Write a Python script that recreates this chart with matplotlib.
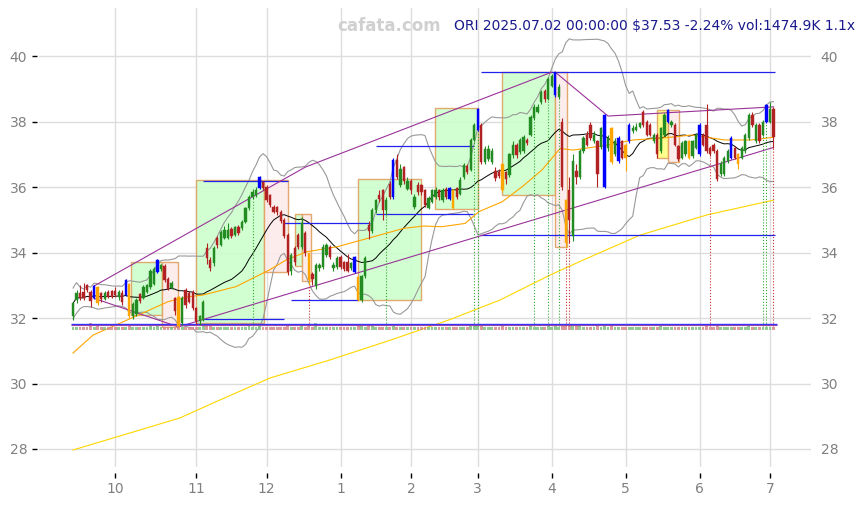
import matplotlib
matplotlib.use('Agg')
import matplotlib.pyplot as plt
from matplotlib.patches import Rectangle
import numpy as np
import pandas as pd

# trading days shown
holidays = ['2024-11-28', '2024-12-25', '2025-01-01', '2025-01-09', '2025-01-20',
            '2025-02-17', '2025-04-18', '2025-05-26', '2025-06-19']
dates = pd.bdate_range('2024-09-13', '2025-07-02')
dates = dates[~dates.isin(pd.to_datetime(holidays))]

opens = [32.05, 32.55, 32.78, 32.80, 33.00, 32.80, 32.60, 32.95, 32.75, 32.58,
         32.80, 32.82, 32.82, 32.65, 32.78, 32.70, 33.05, 32.05, 32.12, 32.72,
         32.62, 32.80, 32.95, 33.05, 33.40, 33.50, 33.60, 33.20, 32.92, 32.62,
         32.64, 31.85, 32.85, 32.76, 32.80, 32.30, 31.92, 31.94, 34.14, 33.77,
         33.68, 34.44, 34.23, 34.44, 34.45, 34.72, 34.55, 34.78, 34.75, 34.93,
         35.36, 35.70, 35.75, 35.97, 36.15, 36.00, 35.76, 35.39, 35.39, 35.25,
         35.00, 34.55, 33.45, 34.14, 34.55, 34.18, 34.60, 33.98, 33.35, 32.98,
         33.52, 33.56, 33.92, 34.18, 33.52, 33.56, 33.86, 33.70, 33.70, 33.52,
         33.40, 33.25, 32.55, 33.28, 34.84, 34.66, 35.30, 35.76, 35.91, 35.30,
         36.10, 35.70, 36.83, 36.06, 36.60, 35.95, 36.20, 35.40, 36.06, 36.05,
         35.91, 35.36, 35.55, 35.70, 35.91, 35.60, 35.95, 35.65, 35.91, 35.97,
         35.80, 36.30, 36.64, 36.52, 37.44, 37.74, 37.89, 36.76, 36.85, 36.76,
         36.50, 36.45, 36.70, 36.45, 36.37, 36.98, 37.28, 37.06, 37.10, 37.44,
         37.59, 38.10, 38.30, 38.60, 38.95, 38.70, 39.10, 38.80, 38.75, 38.00,
         35.60, 35.90, 34.50, 36.50, 36.30, 37.10, 37.60, 37.90, 37.40, 37.40,
         37.22, 36.00, 37.20, 37.80, 37.00, 36.80, 37.40, 37.30, 37.40, 37.70,
         37.75, 37.85, 38.30, 38.00, 37.90, 37.40, 37.60, 37.10, 37.60, 38.00,
         37.90, 37.90, 37.25, 36.90, 37.00, 37.40, 36.95, 37.20, 37.00, 37.60,
         37.90, 37.20, 37.30, 37.10, 36.40, 36.40, 36.80, 36.90, 37.20, 37.00,
         36.90, 37.10, 37.50, 38.20, 37.40, 37.90, 37.60, 38.00, 38.00, 38.40]
closes = [32.45, 32.78, 32.62, 32.62, 32.85, 32.52, 32.98, 32.45, 32.58, 32.78,
          32.65, 32.65, 32.70, 32.80, 32.50, 33.15, 32.05, 32.42, 32.55, 32.52,
          32.95, 33.00, 33.45, 33.50, 33.77, 33.62, 33.16, 32.88, 33.08, 32.20,
          31.75, 32.62, 32.40, 32.50, 32.30, 31.90, 32.05, 32.50, 33.83, 33.53,
          34.14, 34.23, 34.63, 34.69, 34.68, 34.52, 34.78, 34.60, 34.93, 35.36,
          35.70, 35.85, 35.90, 36.30, 35.97, 35.60, 35.45, 35.24, 35.24, 34.95,
          34.50, 33.40, 33.92, 33.70, 34.18, 34.90, 33.98, 33.16, 33.20, 33.62,
          33.62, 34.18, 34.23, 33.86, 33.62, 33.83, 33.56, 33.50, 33.45, 33.68,
          33.86, 32.55, 33.28, 33.83, 34.66, 35.30, 35.60, 35.64, 35.30, 35.60,
          35.70, 36.83, 36.31, 36.55, 36.20, 36.20, 35.90, 35.70, 35.85, 35.85,
          35.45, 35.66, 35.90, 35.91, 35.70, 35.91, 35.70, 35.97, 35.36, 35.70,
          36.21, 36.67, 36.45, 37.44, 37.89, 38.40, 36.76, 37.15, 37.15, 37.10,
          36.27, 36.33, 35.90, 36.25, 37.00, 37.28, 36.98, 37.44, 37.52, 37.35,
          38.14, 38.45, 38.45, 38.90, 38.70, 39.30, 39.40, 39.50, 39.05, 36.00,
          34.30, 35.00, 36.80, 36.30, 37.10, 37.50, 37.30, 37.50, 37.60, 36.40,
          37.80, 38.20, 37.50, 36.76, 37.40, 37.50, 36.90, 36.90, 37.90, 37.80,
          37.85, 37.95, 37.90, 37.60, 37.60, 37.60, 37.00, 37.80, 38.20, 38.35,
          38.00, 37.30, 36.85, 37.35, 37.40, 36.90, 37.40, 37.60, 37.90, 37.30,
          37.10, 37.00, 37.10, 36.25, 36.70, 36.90, 37.10, 37.50, 36.90, 36.70,
          37.20, 37.60, 38.20, 37.90, 37.90, 37.40, 38.00, 38.50, 38.39, 37.53]
highs = [32.50, 32.85, 33.00, 33.08, 33.05, 32.85, 33.00, 32.97, 32.80, 32.82,
         32.85, 32.85, 32.95, 32.85, 32.85, 33.18, 33.08, 32.48, 32.60, 32.78,
         33.00, 33.05, 33.50, 33.55, 33.80, 33.66, 33.65, 33.25, 33.12, 32.65,
         32.66, 32.66, 32.92, 32.82, 32.85, 32.35, 32.10, 32.55, 34.30, 33.85,
         34.20, 34.50, 34.68, 34.80, 34.90, 34.78, 34.82, 34.85, 35.00, 35.40,
         35.75, 35.95, 36.00, 36.35, 36.20, 36.05, 35.80, 35.45, 35.42, 35.30,
         35.05, 34.60, 33.98, 34.20, 34.60, 35.10, 34.65, 34.00, 33.40, 33.68,
         33.68, 34.25, 34.30, 34.22, 33.70, 33.90, 33.92, 33.75, 33.95, 33.72,
         33.90, 33.28, 33.32, 33.90, 34.95, 35.35, 35.65, 35.90, 35.95, 35.70,
         36.20, 36.88, 37.00, 36.70, 36.65, 36.30, 36.25, 35.80, 36.15, 36.10,
         35.95, 35.72, 35.95, 36.00, 35.95, 35.96, 36.00, 36.00, 35.95, 36.00,
         36.30, 36.75, 36.70, 37.50, 37.95, 38.42, 37.95, 37.25, 37.30, 37.20,
         36.60, 36.55, 36.75, 36.50, 37.05, 37.40, 37.35, 37.50, 37.60, 37.50,
         38.20, 38.55, 38.55, 38.96, 39.00, 39.35, 39.45, 39.52, 39.15, 38.10,
         35.65, 36.30, 37.00, 36.70, 37.15, 37.55, 37.70, 38.00, 37.70, 37.45,
         37.85, 38.22, 37.60, 37.85, 37.50, 37.55, 37.45, 37.35, 37.95, 37.90,
         37.95, 38.00, 38.35, 38.05, 37.95, 37.65, 37.65, 37.85, 38.25, 38.40,
         38.05, 37.95, 37.30, 37.40, 37.45, 37.45, 37.45, 37.65, 37.95, 37.65,
         38.55, 37.25, 37.35, 37.15, 36.80, 36.95, 37.15, 37.55, 37.25, 37.05,
         37.25, 37.65, 38.25, 38.30, 37.95, 37.95, 38.05, 38.55, 38.60, 38.45]
lows = [31.95, 32.45, 32.55, 32.55, 32.80, 32.35, 32.58, 32.40, 32.50, 32.55,
        32.60, 32.60, 32.65, 32.55, 32.40, 32.68, 32.00, 31.98, 32.05, 32.45,
        32.58, 32.75, 32.90, 33.00, 33.38, 33.45, 33.10, 32.85, 32.88, 32.10,
        31.72, 31.80, 32.30, 32.45, 32.25, 31.82, 31.80, 31.90, 33.65, 33.45,
        33.60, 34.15, 34.20, 34.40, 34.42, 34.45, 34.50, 34.55, 34.70, 34.90,
        35.30, 35.65, 35.70, 35.95, 35.90, 35.55, 35.40, 35.20, 35.15, 34.90,
        34.45, 33.30, 33.30, 33.62, 34.10, 34.12, 33.90, 33.00, 33.00, 32.90,
        33.45, 33.50, 33.85, 33.80, 33.45, 33.50, 33.50, 33.45, 33.40, 33.48,
        33.38, 32.52, 32.48, 33.22, 34.40, 34.60, 35.20, 35.55, 35.00, 35.15,
        35.65, 35.65, 36.25, 36.00, 36.10, 35.90, 35.80, 35.33, 35.75, 35.75,
        35.40, 35.33, 35.50, 35.65, 35.60, 35.55, 35.65, 35.60, 35.33, 35.65,
        35.75, 36.25, 36.40, 36.48, 37.40, 37.70, 36.70, 36.70, 36.80, 36.70,
        36.20, 36.28, 35.85, 36.10, 36.30, 36.90, 36.90, 37.00, 37.05, 37.30,
        37.55, 38.05, 38.25, 38.55, 38.60, 38.65, 39.05, 38.75, 38.70, 35.90,
        34.17, 34.30, 34.35, 36.10, 36.25, 37.05, 37.25, 37.45, 37.35, 36.00,
        37.15, 35.97, 37.10, 36.70, 36.95, 36.75, 36.85, 36.50, 37.35, 37.65,
        37.70, 37.80, 37.85, 37.55, 37.55, 37.35, 36.90, 37.05, 37.55, 37.95,
        37.85, 37.25, 36.80, 36.85, 36.95, 36.85, 36.90, 37.15, 36.95, 37.25,
        37.05, 36.95, 37.05, 36.20, 36.35, 36.35, 36.75, 36.85, 36.85, 36.55,
        36.85, 37.05, 37.45, 37.85, 37.35, 37.35, 37.55, 37.95, 37.95, 37.20]
vol_k = [1350, 1420, 1280, 1500, 1380, 2800, 1450, 1600, 1300, 1250,
         1400, 1350, 1300, 1450, 1380, 1500, 1700, 1420, 1350, 1300,
         1480, 1400, 1550, 1450, 1600, 1380, 1420, 1500, 1350, 1450,
         1700, 1500, 1400, 1380, 1450, 1500, 1420, 1550, 2100, 1600,
         1450, 1400, 1380, 1350, 1420, 1300, 1380, 1450, 1400, 1500,
         1550, 1480, 1420, 1600, 1450, 1500, 1420, 1380, 1350, 1400,
         1450, 1650, 1500, 1420, 1400, 1550, 1480, 1600, 1450, 2800,
         1400, 1380, 1420, 1350, 1300, 1400, 1380, 1350, 1420, 1400,
         1500, 1650, 1550, 1480, 1700, 1600, 1450, 1400, 1500, 1450,
         1400, 1600, 1500, 1450, 1400, 1380, 1420, 1450, 1400, 1350,
         1420, 1380, 1400, 1350, 1380, 1400, 1420, 1450, 1500, 1400,
         1450, 1500, 1420, 1600, 1550, 1650, 1700, 1500, 1450, 1420,
         1480, 1400, 1600, 1450, 1500, 1420, 1400, 1450, 1480, 1380,
         1550, 1500, 1420, 1480, 1450, 1550, 1500, 1650, 1500, 1800,
         1900, 1850, 1900, 1600, 1550, 1500, 1450, 1420, 1400, 1550,
         1500, 1650, 1480, 1550, 1450, 1500, 1420, 1480, 1500, 1420,
         1400, 1380, 1450, 1420, 1400, 1380, 1500, 1550, 1480, 1500,
         1420, 1450, 1500, 1420, 1400, 1450, 1400, 1420, 1500, 1420,
         1550, 1450, 1420, 1600, 1450, 1400, 1380, 1450, 1420, 1400,
         1380, 1420, 1550, 1480, 1450, 1480, 1420, 1500, 1450, 1474.9]

blue_idx = [6, 15, 24, 53, 80, 91, 107, 115, 137, 151, 155, 158, 169, 178, 187, 197]
orange_idx = [7, 16, 30, 67, 81, 108, 122, 140, 153, 157, 175, 189]

# longer moving averages (index, price)
ma_mid_i = [0, 5.7, 17.5, 27, 32.7, 36.8, 46.3, 55.8, 60.5, 66.2, 75.1, 83.6, 94, 99.7,
            104.8, 111.4, 115.3, 121.9, 127.6, 133.2, 138.4, 142.1, 151.6, 159.2,
            166.8, 175.7, 185.1, 192.7, 199]
ma_mid_p = [30.93, 31.48, 32.04, 32.50, 32.65, 32.70, 32.96, 33.47, 33.77, 34.02, 34.18,
            34.43, 34.74, 34.81, 34.79, 34.89, 35.25, 35.55, 36.01, 36.52, 37.18, 37.13,
            37.28, 37.44, 37.49, 37.59, 37.44, 37.44, 37.52]
ma_long_i = [0, 16.2, 30.4, 41.8, 56, 73, 90.6, 107, 121.3, 135.5, 144.9, 161, 180.1, 199]
ma_long_p = [27.97, 28.49, 28.95, 29.50, 30.17, 30.72, 31.34, 31.95, 32.55, 33.31,
             33.77, 34.53, 35.15, 35.60]

# boxes: (start idx, end idx, low, high, colour)
boxes = [(16.5, 25.2, 32.09, 33.71, 'g'), (25.2, 29.8, 31.73, 33.71, 'p'),
         (35.0, 54.2, 31.85, 36.21, 'g'), (54.2, 61.2, 33.40, 36.21, 'p'),
         (63.0, 65.0, 33.59, 35.18, 'g'), (65.0, 67.5, 33.13, 35.18, 'p'),
         (81.0, 99.0, 32.55, 36.24, 'g'),
         (102.8, 115.0, 35.33, 38.41, 'g'),
         (121.8, 137.0, 35.76, 39.51, 'g'), (137.0, 140.4, 34.17, 39.51, 'p'),
         (166.0, 169.0, 36.89, 38.35, 'y'), (169.0, 172.2, 36.76, 38.35, 'p')]

# blue levels: (start idx, end idx, price)
levels = [(116, 199.5, 39.51), (115.6, 199.5, 34.53), (86, 113.5, 37.25), (86, 113.5, 35.18),
          (59.7, 84.4, 34.90), (62, 81, 32.55), (37, 60, 31.97), (37, 61, 36.18)]

# purple trend lines as (idx list, price list)
trend_lines = [([6, 66, 136], [32.98, 36.61, 39.51]),
               ([6, 30], [32.60, 31.73]),
               ([30, 199], [31.73, 37.21]),
               ([137, 152, 199], [39.51, 38.17, 38.45])]

green_marks = [51, 89, 114, 115, 131, 135, 138, 196, 197]
red_marks = [67, 140, 141, 181, 199]

o = np.array(opens)
c = np.array(closes)
h = np.array(highs)
l = np.array(lows)
x = np.arange(len(c))

s = pd.Series(c)
ma20 = s.rolling(20, min_periods=1).mean()
sd20 = s.rolling(20, min_periods=2).std().bfill()
bb_up = ma20 + 2 * sd20
bb_dn = ma20 - 2 * sd20

fig = plt.figure(figsize=(8.65, 5.05), dpi=100)
ax = fig.add_axes([39 / 865, 1 - 467 / 505, (811 - 39) / 865, (467 - 8) / 505])

fills = {'g': '#ccffcc', 'p': '#fdeaea', 'y': '#ffff80'}
for x0, x1, lo, hi, k in boxes:
    ax.add_patch(Rectangle((x0, lo), x1 - x0, hi - lo, facecolor=fills[k],
                           edgecolor='#e0a060', lw=1, alpha=0.9, zorder=1))

ax.plot(x, bb_up, color='#999999', lw=0.8, zorder=2)
ax.plot(x, bb_dn, color='#999999', lw=0.8, zorder=2)
ax.plot(x, ma20, color='black', lw=0.7, zorder=2)
ax.plot(ma_mid_i, ma_mid_p, color='orange', lw=0.8, zorder=2)
ax.plot(ma_long_i, ma_long_p, color='gold', lw=0.8, zorder=2)

for x0, x1, p in levels:
    ax.hlines(p, x0, x1, color='#2222ee', lw=0.9, zorder=2)

for xs, ps in trend_lines:
    ax.plot(xs, ps, color='#993399', lw=0.8, zorder=2)

# signal marks
for i in green_marks:
    ax.vlines(i, 31.75, l[i], color='#33aa33', lw=0.8, linestyles=':', zorder=2)
for i in red_marks:
    ax.vlines(i, 31.75, l[i], color='#cc3333', lw=0.8, linestyles=':', zorder=2)

# volume strip along bottom
vol = np.array(vol_k)
vcol = np.where(c >= o, '#7fbf7f', '#d48a8a')
ax.bar(x, vol / 1500 * 0.11, bottom=31.63, width=0.8, color=vcol, alpha=0.85, zorder=2)
ax.hlines(31.81, -0.5, 200, color='#3333ff', lw=1, zorder=3)
ax.hlines(31.785, -0.5, 200, color='#9944aa', lw=0.8, zorder=3)

# candles
cols = np.where(c >= o, '#228b22', '#b22222').astype(object)
for i in blue_idx:
    cols[i] = '#0000ff'
for i in orange_idx:
    cols[i] = '#ffa500'
ax.vlines(x, l, h, colors=cols, lw=0.8, zorder=3)
body = np.maximum(np.abs(c - o), 0.03)
ax.bar(x, body, bottom=np.minimum(o, c), width=0.65, color=cols, edgecolor=cols,
       linewidth=0.3, zorder=4)

ticks = [i for i in range(1, len(dates)) if dates[i].month != dates[i - 1].month]
ax.set_xticks(ticks)
ax.set_xticklabels([str(dates[i].month) for i in ticks])
ax.set_yticks(np.arange(28, 41, 2))
ax.set_xlim(-9.66, 209.66)
ax.set_ylim(27.45, 41.47)

for sp in ax.spines.values():
    sp.set_visible(False)
ax.spines['bottom'].set_position(('outward', 4))
ax.spines['left'].set_position(('outward', 1.5))
ax.grid(True, color='#dddddd', lw=1)
ax.set_axisbelow(True)
ax.tick_params(axis='both', labelsize=10, labelcolor='#808080', length=3.5, width=1)
ax.tick_params(axis='y', labelright=True, right=False, pad=3.5)
ax.tick_params(axis='x', pad=3)

fig.text(389 / 865, 1 - 26 / 505, 'cafata.com', ha='center', va='center',
         color='#d0d0d0', fontsize=12, fontweight='bold')
fig.text(855 / 865, 1 - 26 / 505, 'ORI 2025.07.02 00:00:00 $37.53 -2.24% vol:1474.9K 1.1x',
         ha='right', va='center', color='#1a1a8c', fontsize=10)

fig.savefig('out.png', dpi=100)
